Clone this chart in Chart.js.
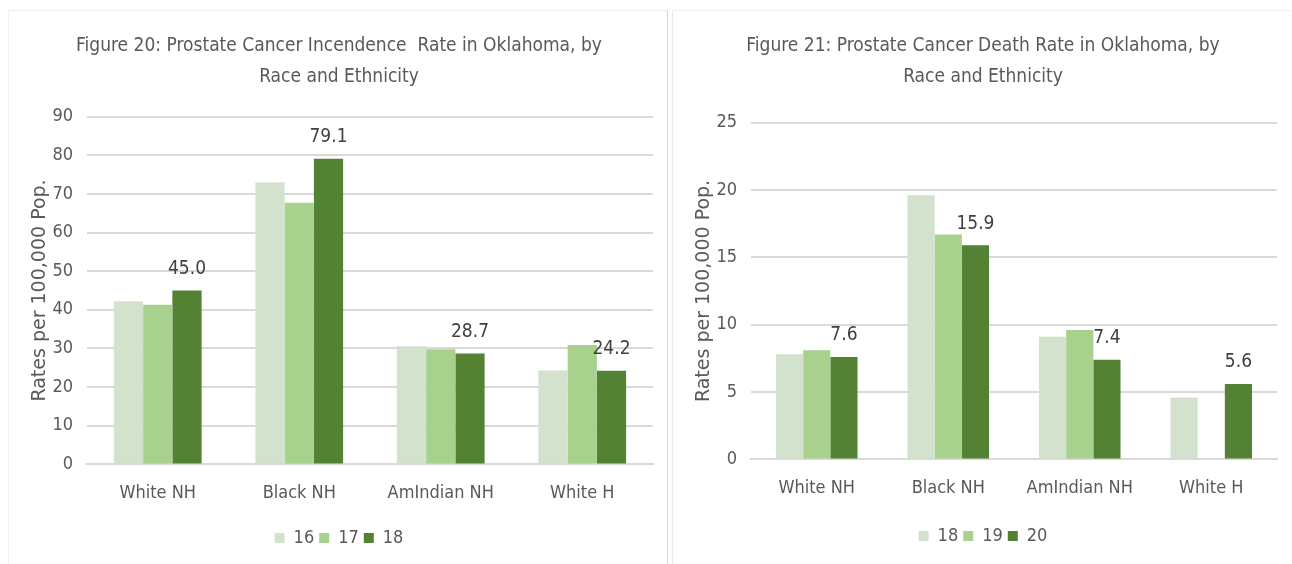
<!DOCTYPE html>
<html>
<head>
<meta charset="utf-8">
<script src="https://cdn.jsdelivr.net/npm/chart.js@4"></script>
<style>
  body { margin: 0; background: #fff; width: 1292px; height: 564px; overflow: hidden; position: relative; }
  .panel { position: absolute; background: #fff; }
  #p1 { left: 8px; top: 10px; width: 658px; height: 554px; border-top: 1px solid #eceff3; border-left: 1px solid #eceff3; border-right: 1px solid #c9d6ea; }
  #p2 { left: 672px; top: 10px; width: 618px; height: 554px; border-top: 1px solid #eceff3; border-left: 1px solid #e6ebf2; }
</style>
</head>
<body>
<div class="panel" id="p1"><canvas id="c1"></canvas></div>
<div class="panel" id="p2"><canvas id="c2"></canvas></div>
<script>
// categorias compartidas
var categorias = ["White NH", "Black NH", "AmIndian NH", "White H"];

// Figura 20 - incidencia
var anios20 = ["16", "17", "18"];
var inc16 = [42.2, 73.0, 30.6, 24.3];
var inc17 = [41.3, 67.7, 29.8, 30.9];
var inc18 = [45.0, 79.1, 28.7, 24.2];
var ticks20 = { min: 0, max: 90, step: 10 };

// Figura 21 - mortalidad
var anios21 = ["18", "19", "20"];
var mue18 = [7.8, 19.6, 9.1, 4.6];
var mue19 = [8.1, 16.7, 9.6, null];
var mue20 = [7.6, 15.9, 7.4, 5.6];
var ticks21 = { min: 0, max: 25, step: 5 };

var colores = ["#d3e2cc", "#a9d18e", "#548235"];
var gris = "#595959";
var fuente = "'Liberation Sans Narrow', 'DejaVu Sans Condensed', sans-serif";

// etiquetas solo en la ultima serie
var etiquetas = {
  id: "etiquetas",
  afterDatasetsDraw: function (chart) {
    var ctx = chart.ctx;
    var meta = chart.getDatasetMeta(2);
    var datos = chart.data.datasets[2].data;
    ctx.save();
    ctx.font = "19px " + fuente;
    ctx.fillStyle = "#404040";
    ctx.textAlign = "center";
    ctx.textBaseline = "bottom";
    meta.data.forEach(function (bar, i) {
      if (datos[i] == null) return;
      ctx.fillText(datos[i].toFixed(1), bar.x, bar.y - 12);
    });
    ctx.restore();
  }
};

function crear(id, titulo, anios, series, t, anchoY, padTitulo, padAbajo, extraX) {
  var ctx = document.getElementById(id).getContext("2d");
  return new Chart(ctx, {
    type: "bar",
    data: {
      labels: categorias,
      datasets: series.map(function (s, i) {
        return {
          label: anios[i],
          data: s,
          backgroundColor: colores[i],
          categoryPercentage: 0.62,
          barPercentage: 1.0
        };
      })
    },
    options: {
      responsive: true,
      maintainAspectRatio: false,
      animation: false,
      layout: { padding: { left: 16, right: 14, top: 14, bottom: padAbajo } },
      plugins: {
        title: {
          display: true,
          text: titulo,
          color: gris,
          font: { family: fuente, size: 19, weight: "normal", lineHeight: 1.62 },
          padding: { top: 6, bottom: padTitulo }
        },
        legend: {
          position: "bottom",
          labels: {
            color: gris,
            font: { family: fuente, size: 18 },
            boxWidth: 10,
            boxHeight: 10,
            padding: 5
          }
        },
        tooltip: { enabled: false }
      },
      scales: {
        x: {
          afterFit: function (scale) { scale.height += extraX; },
          grid: { display: false },
          border: { color: "#d9d9d9", width: 2 },
          ticks: { color: gris, font: { family: fuente, size: 18 }, padding: 10 }
        },
        y: {
          min: t.min,
          max: t.max,
          afterFit: function (scale) { scale.width = anchoY; },
          ticks: { stepSize: t.step, color: gris, font: { family: fuente, size: 18 }, padding: 14 },
          grid: { color: "#d9d9d9", lineWidth: 2, drawTicks: false },
          border: { display: false },
          title: {
            display: true,
            text: "Rates per 100,000 Pop.",
            color: gris,
            font: { family: "'DejaVu Sans', Verdana, sans-serif", size: 19 },
            padding: { bottom: 2 }
          }
        }
      }
    },
    plugins: [etiquetas]
  });
}

crear("c1", ["Figure 20: Prostate Cancer Incendence  Rate in Oklahoma, by", "Race and Ethnicity"],
  anios20, [inc16, inc17, inc18], ticks20, 62, 24, 8, 10);
crear("c2", ["Figure 21: Prostate Cancer Death Rate in Oklahoma, by", "Race and Ethnicity"],
  anios21, [mue18, mue19, mue20], ticks21, 62, 30, 10, 13);
</script>
</body>
</html>
